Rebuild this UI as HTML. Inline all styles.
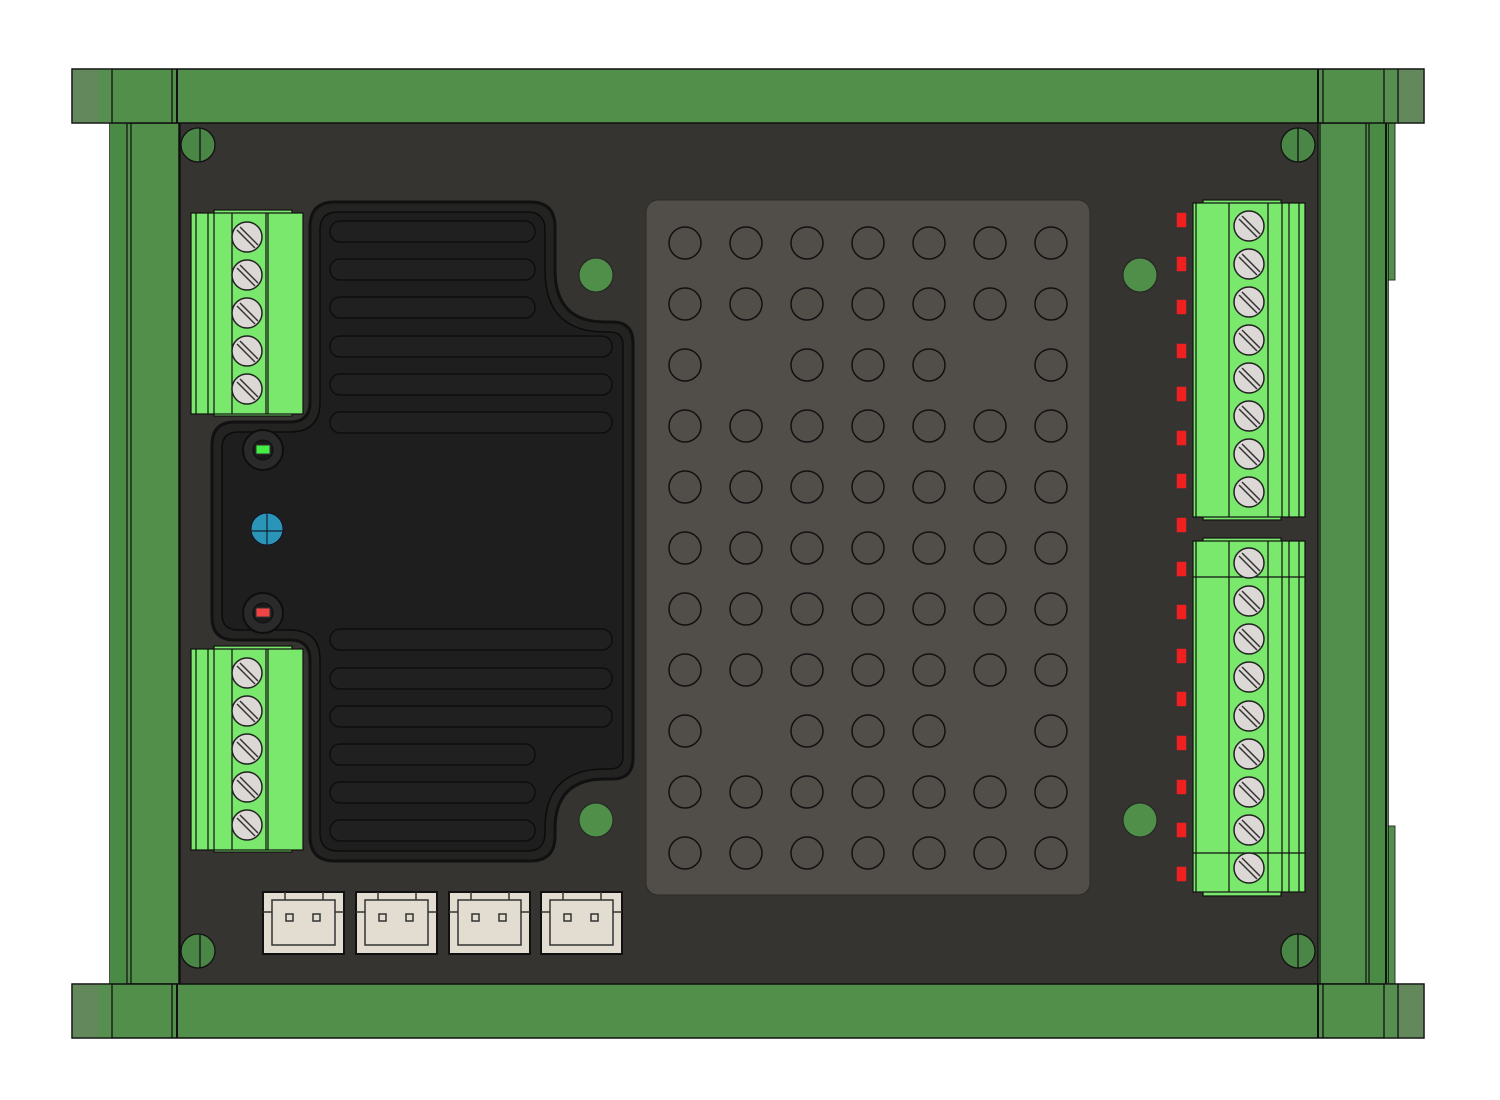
<!DOCTYPE html>
<html><head><meta charset="utf-8"><style>html,body{margin:0;padding:0;background:#fff}svg{display:block}</style></head>
<body>
<svg width="1500" height="1100" viewBox="0 0 1500 1100" xmlns="http://www.w3.org/2000/svg">
<defs>
<g id="screw"><circle r="15" fill="#dcd8d5" stroke="#222" stroke-width="1.5"/><line x1="-10" y1="-7" x2="8" y2="11" stroke="#333" stroke-width="1.5"/><line x1="-7" y1="-10" x2="11" y2="8" stroke="#333" stroke-width="1.5"/></g>
<circle id="h" r="16" fill="none" stroke="#111" stroke-width="1.5"/>
<rect id="led" x="-6" y="-8" width="11" height="16" fill="#f02020" stroke="#333" stroke-width="1.5"/>
<g id="jst"><rect x="0" y="0" width="81" height="62" fill="#e2ddd0" stroke="#111" stroke-width="2"/><rect x="9" y="8" width="63" height="45" fill="none" stroke="#333" stroke-width="1.5"/><line x1="0" y1="20" x2="9" y2="20" stroke="#333" stroke-width="1.5"/><line x1="72" y1="20" x2="81" y2="20" stroke="#333" stroke-width="1.5"/><line x1="22" y1="0" x2="22" y2="8" stroke="#333" stroke-width="1.5"/><line x1="60" y1="0" x2="60" y2="8" stroke="#333" stroke-width="1.5"/><rect x="23" y="22" width="7" height="7" fill="none" stroke="#333" stroke-width="1.5"/><rect x="50" y="22" width="7" height="7" fill="none" stroke="#333" stroke-width="1.5"/></g>
</defs>
<!-- board -->
<rect x="180" y="123" width="1138" height="861" fill="#363430"/>
<!-- left side rail -->
<rect x="110" y="123" width="70" height="861" fill="#518f4b" stroke="#111" stroke-width="1.5"/>
<rect x="110" y="123" width="18" height="861" fill="#498a44"/>
<line x1="127" y1="123" x2="127" y2="984" stroke="#111" stroke-width="1.2"/>
<line x1="131" y1="123" x2="131" y2="984" stroke="#111" stroke-width="1.2"/>
<line x1="179" y1="123" x2="179" y2="984" stroke="#111" stroke-width="1.5"/>
<!-- right side rail -->
<rect x="1388" y="123" width="7" height="157" fill="#518f4b" stroke="#333" stroke-width="1"/>
<rect x="1388" y="826" width="7" height="158" fill="#518f4b" stroke="#333" stroke-width="1"/>
<rect x="1318" y="123" width="70" height="861" fill="#528f4c" stroke="#111" stroke-width="1.5"/>
<rect x="1368" y="123" width="20" height="861" fill="#498a44"/>
<line x1="1320" y1="123" x2="1320" y2="984" stroke="#111" stroke-width="1.2"/>
<line x1="1366" y1="123" x2="1366" y2="984" stroke="#111" stroke-width="1.2"/>
<line x1="1369" y1="123" x2="1369" y2="984" stroke="#111" stroke-width="1.2"/>
<line x1="1386" y1="123" x2="1386" y2="984" stroke="#111" stroke-width="2"/>
<!-- top rail -->
<g stroke="#111" stroke-width="1.3">
<rect x="72" y="69" width="1352" height="54" fill="#528f4b"/>
<rect x="72" y="69" width="26" height="54" fill="#62885c" stroke="none"/>
<rect x="98" y="69" width="14" height="54" fill="#568f50" stroke="none"/>
<rect x="1384" y="69" width="14" height="54" fill="#568f50" stroke="none"/>
<rect x="1398" y="69" width="26" height="54" fill="#62885c" stroke="none"/>
<rect x="72" y="69" width="1352" height="54" fill="none"/>
<line x1="112" y1="69" x2="112" y2="123"/><line x1="172" y1="69" x2="172" y2="123"/><line x1="177" y1="69" x2="177" y2="123" stroke-width="2"/>
<line x1="1318" y1="69" x2="1318" y2="123" stroke-width="2"/><line x1="1323" y1="69" x2="1323" y2="123"/><line x1="1384" y1="69" x2="1384" y2="123"/><line x1="1398" y1="69" x2="1398" y2="123"/>
<!-- bottom rail -->
<rect x="72" y="984" width="1352" height="54" fill="#528f4b"/>
<rect x="72" y="984" width="26" height="54" fill="#62885c" stroke="none"/>
<rect x="98" y="984" width="14" height="54" fill="#568f50" stroke="none"/>
<rect x="1384" y="984" width="14" height="54" fill="#568f50" stroke="none"/>
<rect x="1398" y="984" width="26" height="54" fill="#62885c" stroke="none"/>
<rect x="72" y="984" width="1352" height="54" fill="none"/>
<line x1="112" y1="984" x2="112" y2="1038"/><line x1="172" y1="984" x2="172" y2="1038"/><line x1="177" y1="984" x2="177" y2="1038" stroke-width="2"/>
<line x1="1318" y1="984" x2="1318" y2="1038" stroke-width="2"/><line x1="1323" y1="984" x2="1323" y2="1038"/><line x1="1384" y1="984" x2="1384" y2="1038"/><line x1="1398" y1="984" x2="1398" y2="1038"/>
</g>
<!-- mounting holes -->
<g fill="#4a8746" stroke="#111" stroke-width="1.3">
<circle cx="198" cy="145" r="17"/><circle cx="1298" cy="145" r="17"/><circle cx="198" cy="951" r="17"/><circle cx="1298" cy="951" r="17"/>
</g>
<g stroke="#111" stroke-width="1.3"><line x1="200" y1="128" x2="200" y2="162"/><line x1="1298" y1="128" x2="1298" y2="162"/><line x1="200" y1="934" x2="200" y2="968"/><line x1="1298" y1="934" x2="1298" y2="968"/></g>
<g fill="#4f8f4a" stroke="#222" stroke-width="1"><circle cx="596" cy="275" r="17"/><circle cx="596" cy="820" r="17"/><circle cx="1140" cy="275" r="17"/><circle cx="1140" cy="820" r="17"/></g>
<!-- grid panel -->
<rect x="646" y="200" width="444" height="695" rx="12" fill="#514e49" stroke="#2a2a28" stroke-width="1"/>
<g>
<use href="#h" x="685" y="243"/><use href="#h" x="746" y="243"/><use href="#h" x="807" y="243"/><use href="#h" x="868" y="243"/><use href="#h" x="929" y="243"/><use href="#h" x="990" y="243"/><use href="#h" x="1051" y="243"/>
<use href="#h" x="685" y="304"/><use href="#h" x="746" y="304"/><use href="#h" x="807" y="304"/><use href="#h" x="868" y="304"/><use href="#h" x="929" y="304"/><use href="#h" x="990" y="304"/><use href="#h" x="1051" y="304"/>
<use href="#h" x="685" y="365"/><use href="#h" x="807" y="365"/><use href="#h" x="868" y="365"/><use href="#h" x="929" y="365"/><use href="#h" x="1051" y="365"/>
<use href="#h" x="685" y="426"/><use href="#h" x="746" y="426"/><use href="#h" x="807" y="426"/><use href="#h" x="868" y="426"/><use href="#h" x="929" y="426"/><use href="#h" x="990" y="426"/><use href="#h" x="1051" y="426"/>
<use href="#h" x="685" y="487"/><use href="#h" x="746" y="487"/><use href="#h" x="807" y="487"/><use href="#h" x="868" y="487"/><use href="#h" x="929" y="487"/><use href="#h" x="990" y="487"/><use href="#h" x="1051" y="487"/>
<use href="#h" x="685" y="548"/><use href="#h" x="746" y="548"/><use href="#h" x="807" y="548"/><use href="#h" x="868" y="548"/><use href="#h" x="929" y="548"/><use href="#h" x="990" y="548"/><use href="#h" x="1051" y="548"/>
<use href="#h" x="685" y="609"/><use href="#h" x="746" y="609"/><use href="#h" x="807" y="609"/><use href="#h" x="868" y="609"/><use href="#h" x="929" y="609"/><use href="#h" x="990" y="609"/><use href="#h" x="1051" y="609"/>
<use href="#h" x="685" y="670"/><use href="#h" x="746" y="670"/><use href="#h" x="807" y="670"/><use href="#h" x="868" y="670"/><use href="#h" x="929" y="670"/><use href="#h" x="990" y="670"/><use href="#h" x="1051" y="670"/>
<use href="#h" x="685" y="731"/><use href="#h" x="807" y="731"/><use href="#h" x="868" y="731"/><use href="#h" x="929" y="731"/><use href="#h" x="1051" y="731"/>
<use href="#h" x="685" y="792"/><use href="#h" x="746" y="792"/><use href="#h" x="807" y="792"/><use href="#h" x="868" y="792"/><use href="#h" x="929" y="792"/><use href="#h" x="990" y="792"/><use href="#h" x="1051" y="792"/>
<use href="#h" x="685" y="853"/><use href="#h" x="746" y="853"/><use href="#h" x="807" y="853"/><use href="#h" x="868" y="853"/><use href="#h" x="929" y="853"/><use href="#h" x="990" y="853"/><use href="#h" x="1051" y="853"/>
</g>
<!-- heatsink -->
<path d="M 335 202 H 530 Q 555 202 555 227 V 270 Q 555 322 605 322 H 612 Q 633 322 633 343 V 758 Q 633 779 612 779 H 605 Q 555 779 555 829 V 836 Q 555 861 530 861 H 335 Q 310 861 310 836 V 660 Q 310 640 290 640 H 235 Q 212 640 212 617 V 445 Q 212 422 235 422 H 290 Q 310 422 310 402 V 227 Q 310 202 335 202 Z" fill="#232322" stroke="#111" stroke-width="3"/>
<path d="M 338 212 H 527 Q 545 212 545 230 V 270 Q 545 332 605 332 H 610 Q 623 332 623 345 V 756 Q 623 769 610 769 H 605 Q 545 769 545 829 V 833 Q 545 851 527 851 H 338 Q 320 851 320 833 V 660 Q 320 630 290 630 H 238 Q 222 630 222 614 V 448 Q 222 432 238 432 H 290 Q 320 432 320 402 V 230 Q 320 212 338 212 Z" fill="#1e1e1e" stroke="#0c0c0c" stroke-width="1.5"/>
<g fill="#202020" stroke="#0e0e0e" stroke-width="1.5">
<rect x="330" y="221" width="205" height="21" rx="10"/><rect x="330" y="259" width="205" height="21" rx="10"/><rect x="330" y="297" width="205" height="21" rx="10"/>
<rect x="330" y="336" width="282" height="21" rx="10"/><rect x="330" y="374" width="282" height="21" rx="10"/><rect x="330" y="412" width="282" height="21" rx="10"/>
<rect x="330" y="629" width="282" height="21" rx="10"/><rect x="330" y="668" width="282" height="21" rx="10"/><rect x="330" y="706" width="282" height="21" rx="10"/>
<rect x="330" y="744" width="205" height="21" rx="10"/><rect x="330" y="782" width="205" height="21" rx="10"/><rect x="330" y="820" width="205" height="21" rx="10"/>
</g>
<circle cx="263" cy="450" r="20" fill="#2a2a2a" stroke="#0e0e0e" stroke-width="2"/><circle cx="263" cy="450" r="10" fill="#1a1a1a" stroke="#0e0e0e"/>
<rect x="256" y="445" width="14" height="9" fill="#44ee44" stroke="#333"/>
<circle cx="263" cy="613" r="20" fill="#2a2a2a" stroke="#0e0e0e" stroke-width="2"/><circle cx="263" cy="613" r="10" fill="#1a1a1a" stroke="#0e0e0e"/>
<rect x="256" y="608" width="14" height="9" fill="#ee4444" stroke="#333"/>
<circle cx="267" cy="529" r="16" fill="#2a95b8" stroke="#112" stroke-width="1"/>
<line x1="267" y1="513" x2="267" y2="545" stroke="#123" stroke-width="1.2"/><line x1="251" y1="531" x2="283" y2="531" stroke="#123" stroke-width="1.2"/>
<!-- left terminal blocks -->
<g stroke="#111" stroke-width="1.2">
<rect x="214" y="210" width="78" height="206" fill="#79e86d"/>
<rect x="191" y="213" width="112" height="201" fill="#79e86d"/>
<line x1="196" y1="213" x2="196" y2="414"/><line x1="208" y1="213" x2="208" y2="414"/><line x1="214" y1="213" x2="214" y2="414"/><line x1="232" y1="213" x2="232" y2="414"/><line x1="266" y1="213" x2="266" y2="414"/><line x1="268" y1="213" x2="268" y2="414"/>
<rect x="214" y="646" width="78" height="206" fill="#79e86d"/>
<rect x="191" y="649" width="112" height="201" fill="#79e86d"/>
<line x1="196" y1="649" x2="196" y2="850"/><line x1="208" y1="649" x2="208" y2="850"/><line x1="214" y1="649" x2="214" y2="850"/><line x1="232" y1="649" x2="232" y2="850"/><line x1="266" y1="649" x2="266" y2="850"/><line x1="268" y1="649" x2="268" y2="850"/>
</g>
<use href="#screw" x="247" y="237"/><use href="#screw" x="247" y="275"/><use href="#screw" x="247" y="313"/><use href="#screw" x="247" y="351"/><use href="#screw" x="247" y="389"/>
<use href="#screw" x="247" y="673"/><use href="#screw" x="247" y="711"/><use href="#screw" x="247" y="749"/><use href="#screw" x="247" y="787"/><use href="#screw" x="247" y="825"/>
<!-- right terminal blocks -->
<g stroke="#111" stroke-width="1.2">
<rect x="1203" y="200" width="78" height="320" fill="#79e86d"/>
<rect x="1193" y="203" width="112" height="314" fill="#79e86d"/>
<line x1="1196" y1="203" x2="1196" y2="517"/><line x1="1229" y1="203" x2="1229" y2="517"/><line x1="1268" y1="203" x2="1268" y2="517"/><line x1="1282" y1="203" x2="1282" y2="517"/><line x1="1289" y1="203" x2="1289" y2="517"/><line x1="1299" y1="203" x2="1299" y2="517"/>
<rect x="1203" y="538" width="78" height="358" fill="#79e86d"/>
<rect x="1193" y="541" width="112" height="351" fill="#79e86d"/>
<line x1="1196" y1="541" x2="1196" y2="892"/><line x1="1229" y1="541" x2="1229" y2="892"/><line x1="1268" y1="541" x2="1268" y2="892"/><line x1="1282" y1="541" x2="1282" y2="892"/><line x1="1289" y1="541" x2="1289" y2="892"/><line x1="1299" y1="541" x2="1299" y2="892"/>
<line x1="1193" y1="577" x2="1305" y2="577"/><line x1="1193" y1="853" x2="1305" y2="853"/>
</g>
<use href="#screw" x="1249" y="226"/><use href="#screw" x="1249" y="264"/><use href="#screw" x="1249" y="302"/><use href="#screw" x="1249" y="340"/><use href="#screw" x="1249" y="378"/><use href="#screw" x="1249" y="416"/><use href="#screw" x="1249" y="454"/><use href="#screw" x="1249" y="492"/>
<use href="#screw" x="1249" y="563"/><use href="#screw" x="1249" y="601"/><use href="#screw" x="1249" y="639"/><use href="#screw" x="1249" y="677"/><use href="#screw" x="1249" y="716"/><use href="#screw" x="1249" y="754"/><use href="#screw" x="1249" y="792"/><use href="#screw" x="1249" y="830"/><use href="#screw" x="1249" y="868"/>
<!-- red LEDs -->
<use href="#led" x="1182" y="220"/><use href="#led" x="1182" y="264"/><use href="#led" x="1182" y="307"/><use href="#led" x="1182" y="351"/><use href="#led" x="1182" y="394"/><use href="#led" x="1182" y="438"/><use href="#led" x="1182" y="481"/><use href="#led" x="1182" y="525"/>
<use href="#led" x="1182" y="569"/><use href="#led" x="1182" y="612"/><use href="#led" x="1182" y="656"/><use href="#led" x="1182" y="699"/><use href="#led" x="1182" y="743"/><use href="#led" x="1182" y="787"/><use href="#led" x="1182" y="830"/><use href="#led" x="1182" y="874"/>
<!-- JST connectors -->
<use href="#jst" x="263" y="892"/><use href="#jst" x="356" y="892"/><use href="#jst" x="449" y="892"/><use href="#jst" x="541" y="892"/>
</svg>
</body></html>
